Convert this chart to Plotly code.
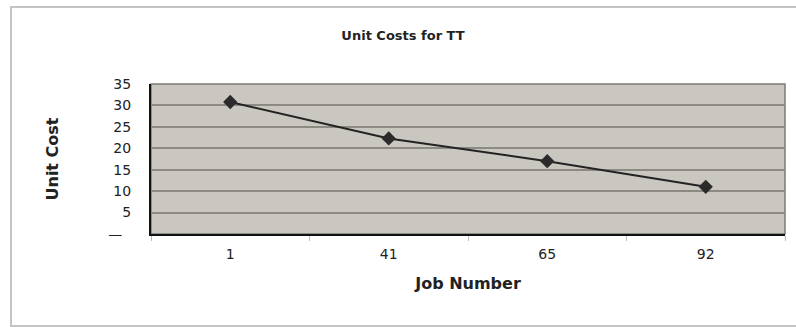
import plotly.graph_objects as go

job_numbers = ["1", "41", "65", "92"]
unit_costs = [30.8, 22.3, 17.0, 11.0]
y_tick_vals = [0, 5, 10, 15, 20, 25, 30, 35]
y_tick_text = ["\u2014\u2007", "5", "10", "15", "20", "25", "30", "35"]

W, H = 796, 327
L, R, T, B = 151, 11, 84, 93
pw, ph = W - L - R, H - T - B

def px_to_paper(x, y):
    return (x - L) / pw, (H - B - y) / ph

fig = go.Figure()
fig.add_trace(go.Scatter(
    x=job_numbers, y=unit_costs, mode="lines+markers",
    line=dict(color="#232323", width=2),
    marker=dict(symbol="diamond", size=11, color="#2b2b2b"),
    showlegend=False,
))

font = "DejaVu Sans, Arial, sans-serif"
fig.update_layout(
    width=W, height=H,
    margin=dict(l=L, r=R, t=T, b=B, autoexpand=False),
    paper_bgcolor="white",
    plot_bgcolor="#c9c7bf",
    font=dict(family=font, color="#222222"),
    title=dict(text="<b>Unit Costs for TT</b>", x=403 / W, xanchor="center",
               y=1 - 35 / H, yanchor="middle", font=dict(size=13, color="#222222")),
    xaxis=dict(
        type="category", range=[-0.5, 3.5],
        showgrid=False, zeroline=False,
        showline=True, linecolor="#111111", linewidth=2,
        ticks="outside", tickson="boundaries", ticklen=5, tickcolor="#bbbbbb",
        tickfont=dict(size=14, color="#222222"),
        ticklabelstandoff=6,
        title=dict(text="<b>Job Number</b>", font=dict(size=16, color="#222222"), standoff=17),
    ),
    yaxis=dict(
        range=[0, 35],
        tickvals=y_tick_vals, ticktext=y_tick_text,
        showgrid=True, gridcolor="#8c8a83", gridwidth=1.5,
        zeroline=False,
        showline=True, linecolor="#111111", linewidth=2,
        ticks="", tickfont=dict(size=14, color="#222222"),
        ticklabelstandoff=15,
        title=dict(text="<b>Unit Cost</b>", font=dict(size=16, color="#222222"), standoff=46),
    ),
)

# plot area frame (top/right light edges)
fig.add_shape(type="rect", xref="paper", yref="paper", x0=0, y0=0, x1=1, y1=1,
              line=dict(color="#7d7b75", width=1.5), layer="below")
# outer chart border
x0, y0 = px_to_paper(11, 326)
x1, y1 = px_to_paper(805, 7)
fig.add_shape(type="rect", xref="paper", yref="paper", x0=x0, y0=y0, x1=x1, y1=y1,
              line=dict(color="#c4c4c4", width=2), layer="below")

fig.write_html("out.html")
